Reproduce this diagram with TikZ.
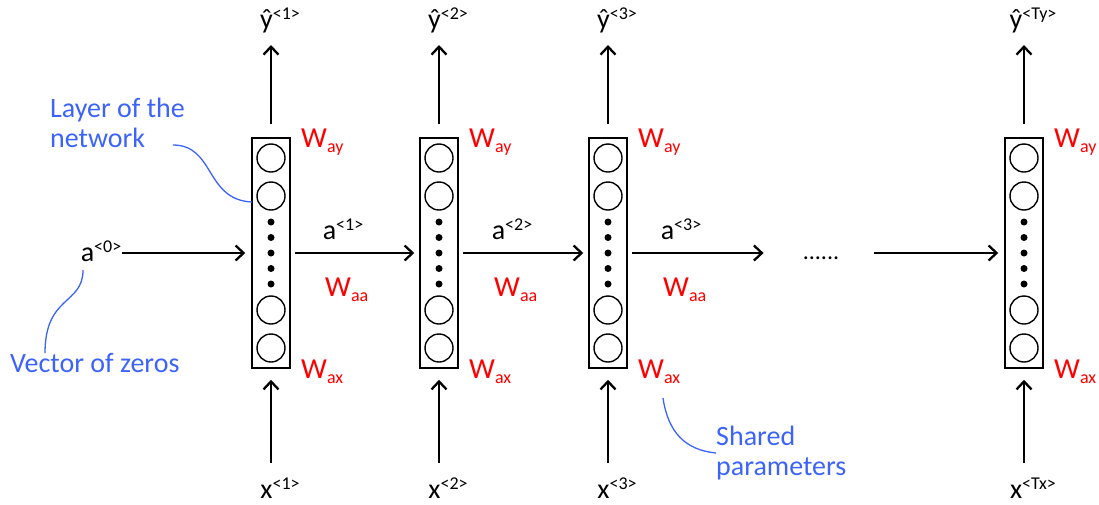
\documentclass[tikz,border=0pt]{standalone}
\usepackage{fontspec}
\setmainfont{Carlito}
\usepackage{tikz}
\usetikzlibrary{arrows.meta,positioning,calc}
\definecolor{wred}{RGB}{255,0,0}
\definecolor{noteblue}{RGB}{60,100,250}
\newcommand{\upidx}[1]{\raisebox{9pt}{\fontsize{18}{18}\selectfont #1}}
\newcommand{\lowidx}[1]{\raisebox{-5pt}{\fontsize{18}{18}\selectfont #1}}

\begin{document}
\begin{tikzpicture}[x=1pt,y=-1pt,
  layerbox/.style={rectangle,draw=black,line width=1.5pt,minimum width=38pt,minimum height=230pt,inner sep=0pt},
  unit/.style={circle,draw=black,line width=1.4pt,minimum size=28pt,inner sep=0pt},
  dot/.style={circle,fill=black,minimum size=7pt,inner sep=0pt},
  arrow/.style={-{Straight Barb[length=8pt,width=15pt,line width=2.3pt]},line width=2pt},
  seq/.style={font=\fontsize{28}{32}\selectfont,inner sep=1pt},
  wlabel/.style={text=wred,font=\fontsize{29}{30}\selectfont,anchor=west,inner sep=0pt},
  note/.style={text=noteblue,font=\fontsize{28}{30}\selectfont,align=left,anchor=west,inner sep=0pt},
  pointer/.style={draw=noteblue,line width=1.3pt}
]
\useasboundingbox (0,0) rectangle (1099,504);

\foreach \i/\xc/\ys/\xs in {1/271/1/1,2/439/2/2,3/608/3/3,4/1024/Ty/Tx} {
  \node[layerbox] (c\i) at (\xc,253) {};
  \foreach \dy in {-95,-57,57,95}
    \node[unit] at ($(c\i)+(0,\dy)$) {};
  \foreach \dy in {-31,-15.5,0,15.5,31}
    \node[dot] at ($(c\i)+(0,\dy)$) {};
  \node[seq] (yh\i) at (\xc+9,20) {ŷ\upidx{<\ys>}};
  \node[seq] (x\i) at (\xc+9,488) {x\upidx{<\xs>}};
  \draw[arrow,shorten <=13pt] (c\i.north) -- (c\i.north |- 0,45);
  \draw[arrow,shorten >=11pt] (c\i.south |- 0,463) -- (c\i.south);
  \node[wlabel] at ($(c\i)+(30,-111)$) {W\lowidx{ay}};
  \node[wlabel] at ($(c\i)+(30,119)$) {W\lowidx{ax}};
}

\node[seq] (a0) at (101,251) {a\upidx{<0>}};
\foreach \i/\xc in {1/343,2/512,3/681}
  \node[seq] (a\i) at (\xc,229) {a\upidx{<\i>}};
\foreach \xc in {325,494,663}
  \node[wlabel] at (\xc,290) {W\lowidx{aa}};

\node[seq,font=\fontsize{24}{28}\selectfont] (more) at (821,258) {......};

\draw[arrow,shorten >=6pt] (a0.east |- c1) -- (c1.west);
\draw[arrow,shorten <=4pt,shorten >=5pt] (c1.east) -- (c2.west);
\draw[arrow,shorten <=4pt,shorten >=5pt] (c2.east) -- (c3.west);
\draw[arrow,shorten <=4pt,shorten >=38pt] (c3.east) -- (c3.east -| more.west);
\draw[arrow,shorten <=34pt,shorten >=6pt] (c4.west -| more.east) -- (c4.west);

\node[note] (layernote) at (50,123) {Layer of the\\network};
\node[note] (zeronote) at (10,363) {Vector of zeros};
\node[note] (sharednote) at (716,453) {Shared\\parameters};

\coordinate (layerhit) at (252,202);
\draw[pointer] (173,145) .. controls (215,145) and (205,200) .. (layerhit);
\draw[pointer] (83,270) .. controls (83,305) and (45,295) .. (zeronote.north west -| 45,0);
\draw[pointer] (663,398) .. controls (668,432) and (685,450) .. (sharednote.west);
\end{tikzpicture}
\end{document}
